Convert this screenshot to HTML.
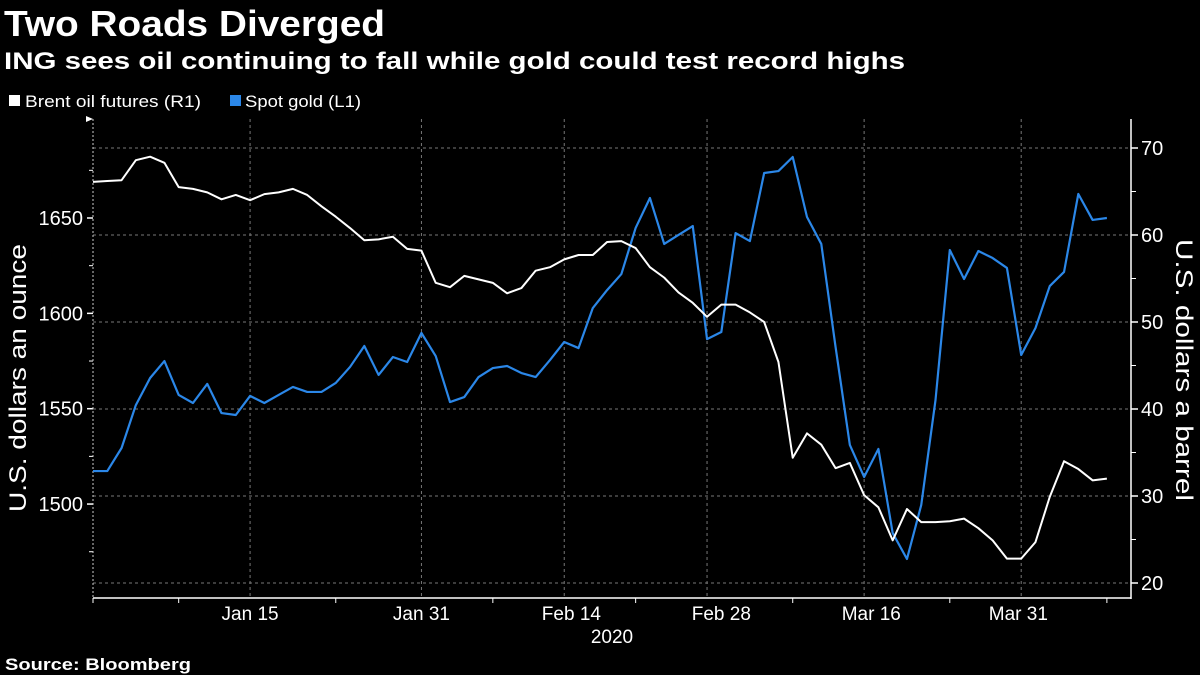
<!DOCTYPE html>
<html><head><meta charset="utf-8"><style>
html,body{margin:0;padding:0;background:#000;width:1200px;height:675px;overflow:hidden}
svg{display:block}
text{font-family:"Liberation Sans","DejaVu Sans",sans-serif;fill:#fff}
</style></head><body>
<svg id="chart" width="1200" height="675" xmlns="http://www.w3.org/2000/svg">
<text x="4" y="36" font-size="36" font-weight="bold" textLength="381" lengthAdjust="spacingAndGlyphs">Two Roads Diverged</text>
<text x="4" y="69" font-size="24" font-weight="bold" textLength="901" lengthAdjust="spacingAndGlyphs">ING sees oil continuing to fall while gold could test record highs</text>
<g>
<rect x="9" y="95" width="11" height="11" fill="#fff"/>
<text x="25" y="107" font-size="17" textLength="176" lengthAdjust="spacingAndGlyphs">Brent oil futures (R1)</text>
<rect x="230" y="95" width="11" height="11" fill="#2b87e8"/>
<text x="245" y="107" font-size="17" textLength="116" lengthAdjust="spacingAndGlyphs">Spot gold (L1)</text>
</g>
<g id="grid"></g>
<g id="axes"></g>
<g id="series"></g>
<text transform="translate(26,378) rotate(-90)" text-anchor="middle" font-size="24" textLength="268" lengthAdjust="spacingAndGlyphs">U.S. dollars an ounce</text>
<text transform="translate(1176,370) rotate(90)" text-anchor="middle" font-size="24" textLength="262" lengthAdjust="spacingAndGlyphs">U.S. dollars a barrel</text>
<text x="612" y="643" text-anchor="middle" font-size="19">2020</text>
<text x="5" y="670" font-size="17" font-weight="bold" textLength="186" lengthAdjust="spacingAndGlyphs">Source: Bloomberg</text>
</svg>
<script>
const oilValues=[66.1,66.2,66.3,68.6,69.0,68.3,65.5,65.3,64.9,64.1,64.6,64.0,64.7,64.9,65.3,64.6,63.3,62.1,60.8,59.4,59.5,59.8,58.4,58.2,54.5,54.0,55.3,54.9,54.5,53.3,53.9,55.9,56.3,57.2,57.7,57.7,59.2,59.3,58.5,56.3,55.1,53.4,52.2,50.6,52.0,52.0,51.1,50.0,45.4,34.4,37.2,35.9,33.2,33.8,30.1,28.7,24.9,28.5,27.0,27.0,27.1,27.4,26.3,24.9,22.8,22.8,24.7,29.9,34.0,33.1,31.8,32.0];
const goldValues=[1517.3,1517.3,1529.4,1551.9,1566.1,1575.0,1557.2,1553.0,1563.0,1547.7,1546.7,1556.7,1553.0,1557.2,1561.4,1558.8,1558.8,1563.5,1571.9,1582.9,1567.7,1577.1,1574.5,1589.7,1577.6,1553.5,1556.1,1566.6,1571.3,1572.4,1568.7,1566.6,1575.5,1585.0,1581.8,1602.8,1612.2,1620.6,1644.8,1660.5,1636.4,1641.1,1645.8,1586.5,1590.2,1642.1,1637.9,1673.6,1674.6,1682.0,1650.5,1636.4,1582.4,1531.0,1514.2,1528.9,1484.8,1471.2,1499.5,1554.6,1633.2,1618.0,1632.7,1629.0,1623.8,1578.2,1592.3,1614.3,1621.7,1662.6,1649.0,1650.0];
const leftTicks=[1500,1550,1600,1650];
const leftMinor=[1475,1525,1575,1625,1675];
const rightTicks=[20,30,40,50,60,70];
const rightMinor=[25,35,45,55,65];
const xLabels=["Jan 15","Jan 31","Feb 14","Feb 28","Mar 16","Mar 31"];
const xLabelIdx=[11,23,33.5,44,54.5,64.8];
const xGridIdx=[11,23,33,43,54,65];
const xMinorIdx=[0,6,17,28,38,49,60,71];

const NS="http://www.w3.org/2000/svg";
const X0=93,XR=1131,YB=598,YT=119,STEP=14.28;
const xs=i=>X0+i*STEP;
const yL=v=>218+(1650-v)*1.907;
const yR=v=>148+(70-v)*8.7;
function mk(tag,attrs,parent){const e=document.createElementNS(NS,tag);for(const k in attrs)e.setAttribute(k,attrs[k]);parent.appendChild(e);return e;}
const grid=document.getElementById('grid'),axes=document.getElementById('axes'),series=document.getElementById('series');

rightTicks.forEach(v=>{
  const l=mk('line',{x1:X0,x2:XR,y1:yR(v),y2:yR(v),stroke:'#777','stroke-width':1,'stroke-dasharray':'3,3'},grid);
  
  
  const t=mk('line',{x1:XR,x2:XR+7,y1:yR(v),y2:yR(v),stroke:'#fff','stroke-width':1.5},axes);
  
  
  const tx=mk('text',{x:XR+10,y:yR(v)+7,'font-size':20},axes);tx.textContent=v;
  
  
});
rightMinor.forEach(v=>{
  const t=mk('line',{x1:XR,x2:XR+5,y1:yR(v),y2:yR(v),stroke:'#fff','stroke-width':1},axes);
  
  
});
leftTicks.forEach(v=>{
  const t=mk('line',{x1:X0-6,x2:X0,y1:yL(v),y2:yL(v),stroke:'#fff','stroke-width':1.5},axes);
  
  
  const tx=mk('text',{x:X0-10,y:yL(v)+7,'font-size':20,'text-anchor':'end'},axes);tx.textContent=v;
  
  
});
leftMinor.forEach(v=>{
  const t=mk('line',{x1:X0-4,x2:X0,y1:yL(v),y2:yL(v),stroke:'#fff','stroke-width':1},axes);
  
  
});
xGridIdx.forEach(i=>{
  const l=mk('line',{x1:xs(i),x2:xs(i),y1:YT,y2:YB,stroke:'#777','stroke-width':1,'stroke-dasharray':'3,3'},grid);
  
  
});
xMinorIdx.forEach(i=>{
  const t=mk('line',{x1:xs(i),x2:xs(i),y1:YB,y2:YB+5,stroke:'#fff','stroke-width':1},axes);
  
  
});
xLabels.forEach((s,k)=>{
  const tx=mk('text',{x:xs(xLabelIdx[k]),y:620,'font-size':19,'text-anchor':'middle'},axes);tx.textContent=s;
  
  
});
let a=mk('line',{x1:X0,x2:X0,y1:YT,y2:YB,stroke:'#ccc','stroke-width':1,'stroke-dasharray':'2,2'},axes);


a=mk('line',{x1:XR,x2:XR,y1:YT,y2:YB+1,stroke:'#fff','stroke-width':1.5},axes);


a=mk('line',{x1:X0,x2:XR,y1:YB,y2:YB,stroke:'#fff','stroke-width':1.5},axes);


a=mk('path',{d:`M${X0-7} ${YT-3}L${X0} ${YT}L${X0-7} ${YT+3}Z`,fill:'#fff'},axes);



const gp=mk('polyline',{points:goldValues.map((v,i)=>xs(i)+','+yL(v)).join(' '),fill:'none',stroke:'#2b87e8','stroke-width':2.2,'stroke-linejoin':'round'},series);


const op=mk('polyline',{points:oilValues.map((v,i)=>xs(i)+','+yR(v)).join(' '),fill:'none',stroke:'#fff','stroke-width':2,'stroke-linejoin':'round'},series);


</script>
</body></html>
